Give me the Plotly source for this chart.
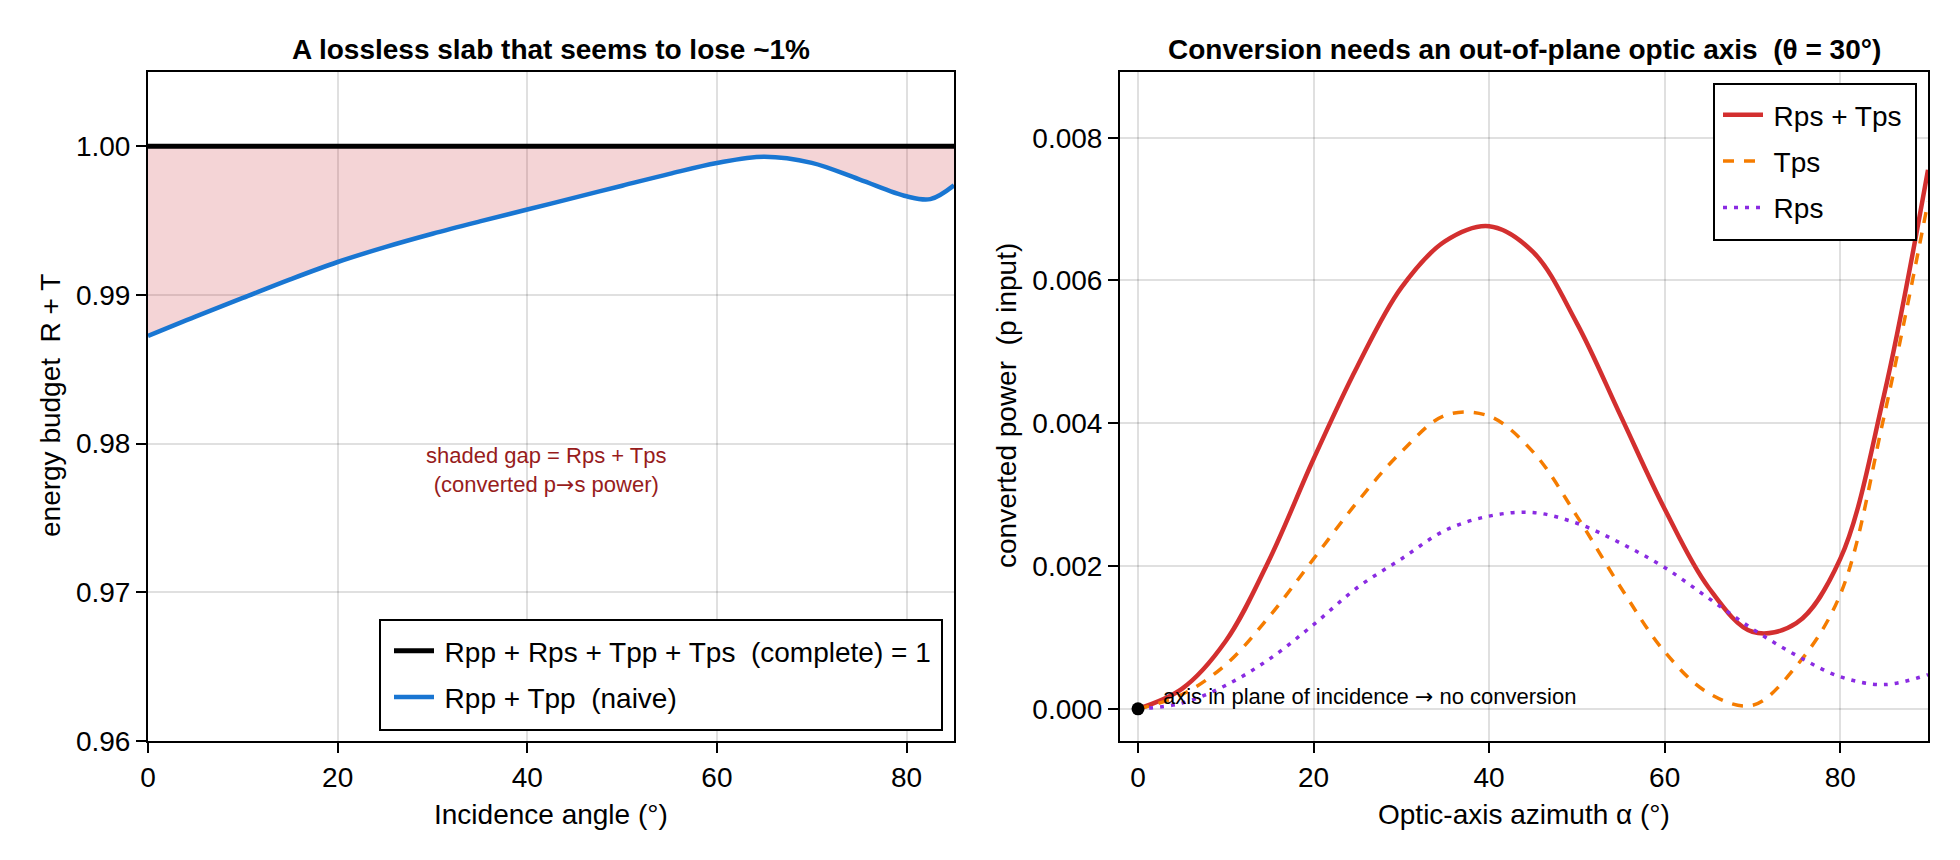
import plotly.graph_objects as go

# ---------------- data ----------------
# Left panel: energy budget vs incidence angle
theta = [0, 5, 10, 15, 20, 25, 30, 35, 40, 45, 50, 55, 60, 65, 70, 75, 80, 82.5, 85]
naive = [0.98725, 0.98855, 0.98980, 0.99105, 0.99222, 0.99322, 0.99412, 0.99495,
         0.99575, 0.99655, 0.99735, 0.99815, 0.99888, 0.99930, 0.99889, 0.99778,
         0.99664, 0.99645, 0.99738]
complete = [1.0] * len(theta)

# Right panel: converted power vs optic-axis azimuth
alpha = [0, 5, 10, 15, 20, 25, 30, 35, 40, 45, 50, 55, 60, 65, 70, 75, 80, 85, 90]
conv_total = [0.0, 0.00028, 0.00095, 0.0021, 0.0035, 0.0048, 0.0059, 0.00655, 0.00676,
              0.0064, 0.0054, 0.0041, 0.0028, 0.0017, 0.00108, 0.0012, 0.0021, 0.0044, 0.00755]
tps = [0.0, 0.0002, 0.00062, 0.0013, 0.0021, 0.0029, 0.0036, 0.00411, 0.00410,
       0.0036, 0.0027, 0.0017, 0.0008, 0.00022, 0.00005, 0.0006, 0.0016, 0.0041, 0.0071]
rps = [0.0, 0.00008, 0.00033, 0.0007, 0.00118, 0.0017, 0.0021, 0.0025, 0.0027,
       0.00275, 0.0026, 0.00232, 0.00198, 0.00155, 0.00112, 0.00075, 0.00045, 0.00034, 0.00048]

FONT = "Liberation Sans"
W, H = 1960, 860
ARROW = '<span style="font-family:DejaVu Sans">→</span>'
TSP = "\u2009"

def px(x):
    return x / W

def py(y):
    return (H - y) / H

fig = go.Figure()

# shaded gap between naive and complete
fig.add_trace(go.Scatter(x=theta, y=complete, mode="lines", line=dict(width=0),
                         showlegend=False, hoverinfo="skip", xaxis="x", yaxis="y"))
fig.add_trace(go.Scatter(x=theta, y=naive, mode="lines", line=dict(width=0, shape="spline"),
                         fill="tonexty", fillcolor="rgba(200,40,50,0.20)",
                         showlegend=False, hoverinfo="skip", xaxis="x", yaxis="y"))
fig.add_trace(go.Scatter(x=theta, y=complete, mode="lines",
                         line=dict(color="black", width=5),
                         name=TSP + "Rpp + Rps + Tpp + Tps\u00a0 (complete) = 1",
                         legend="legend", legendgroup="g1", xaxis="x", yaxis="y"))
fig.add_trace(go.Scatter(x=theta, y=naive, mode="lines",
                         line=dict(color="#1976D2", width=4.5, shape="spline"),
                         name=TSP + "Rpp + Tpp\u00a0 (naive)",
                         legend="legend", legendgroup="g2", xaxis="x", yaxis="y"))

# right panel
fig.add_trace(go.Scatter(x=alpha, y=conv_total, mode="lines",
                         line=dict(color="#D32F2F", width=4.5, shape="spline"),
                         name=TSP + "Rps + Tps", legend="legend2", legendgroup="h1",
                         xaxis="x2", yaxis="y2"))
fig.add_trace(go.Scatter(x=alpha, y=tps, mode="lines",
                         line=dict(color="#F57C00", width=3.5, shape="spline", dash="11px,10px"),
                         name=TSP + "Tps", legend="legend2", legendgroup="h2",
                         xaxis="x2", yaxis="y2"))
fig.add_trace(go.Scatter(x=alpha, y=rps, mode="lines",
                         line=dict(color="#8A2BE2", width=3.5, shape="spline", dash="4px,7px"),
                         name=TSP + "Rps", legend="legend2", legendgroup="h3",
                         xaxis="x2", yaxis="y2"))
fig.add_trace(go.Scatter(x=[alpha[0]], y=[conv_total[0]], mode="markers",
                         marker=dict(color="black", size=13),
                         showlegend=False, hoverinfo="skip", xaxis="x2", yaxis="y2"))

axis_common = dict(showline=True, mirror=True, linecolor="black", linewidth=2,
                   ticks="outside", ticklen=10, tickwidth=2, tickcolor="black",
                   showgrid=True, gridcolor="rgba(0,0,0,0.12)", gridwidth=1.5,
                   zeroline=False, tickfont=dict(family=FONT, size=28, color="black"),
                   automargin=False)

ydom = [py(741), py(72)]

legend_common = dict(bgcolor="rgba(0,0,0,0)", borderwidth=0,
                     font=dict(family=FONT, size=28, color="black"),
                     itemwidth=40, traceorder="grouped", tracegroupgap=7)

fig.update_layout(
    width=W, height=H,
    margin=dict(l=0, r=0, t=0, b=0),
    paper_bgcolor="white", plot_bgcolor="white",
    font=dict(family=FONT, color="black"),
    xaxis=dict(domain=[px(148), px(954)], range=[0, 85], tickvals=[0, 20, 40, 60, 80],
               anchor="y", **axis_common),
    yaxis=dict(domain=ydom, range=[0.96, 1.005], tickvals=[0.96, 0.97, 0.98, 0.99, 1.00],
               tickformat=".2f", anchor="x", **axis_common),
    xaxis2=dict(domain=[px(1120), px(1928)], range=[-2.05, 90], tickvals=[0, 20, 40, 60, 80],
                anchor="y2", **axis_common),
    yaxis2=dict(domain=ydom, range=[-0.00045, 0.00892],
                tickvals=[0.0, 0.002, 0.004, 0.006, 0.008],
                tickformat=".3f", anchor="x2", **axis_common),
    legend=dict(x=px(389), y=py(626), xanchor="left", yanchor="top", **legend_common),
    legend2=dict(x=px(1718), y=py(90), xanchor="left", yanchor="top", **legend_common),
    showlegend=True,
    shapes=[
        dict(type="rect", xref="paper", yref="paper", x0=px(380), x1=px(942),
             y0=py(730), y1=py(620), line=dict(color="black", width=2),
             fillcolor="white", layer="above"),
        dict(type="rect", xref="paper", yref="paper", x0=px(1714), x1=px(1916),
             y0=py(240), y1=py(84), line=dict(color="black", width=2),
             fillcolor="white", layer="above"),
    ],
)

annotations = [
    dict(text="<b>A lossless slab that seems to lose ~1%</b>", x=px(551), y=py(50),
         xref="paper", yref="paper", showarrow=False, xanchor="center", yanchor="middle",
         font=dict(family=FONT, size=28, color="black")),
    dict(text="<b>Conversion needs an out-of-plane optic axis\u00a0 (θ = 30°)</b>", x=px(1524), y=py(50),
         xref="paper", yref="paper", showarrow=False, xanchor="center", yanchor="middle",
         font=dict(family=FONT, size=28, color="black")),
    dict(text="Incidence angle (°)", x=px(551), y=py(814),
         xref="paper", yref="paper", showarrow=False, xanchor="center", yanchor="middle",
         font=dict(family=FONT, size=28, color="black")),
    dict(text="Optic-axis azimuth α (°)", x=px(1524), y=py(814),
         xref="paper", yref="paper", showarrow=False, xanchor="center", yanchor="middle",
         font=dict(family=FONT, size=28, color="black")),
    dict(text="energy budget\u00a0 R + T", x=px(50), y=py(406),
         xref="paper", yref="paper", showarrow=False, textangle=-90,
         xanchor="center", yanchor="middle",
         font=dict(family=FONT, size=28, color="black")),
    dict(text="converted power\u00a0 (p input)", x=px(1006), y=py(406),
         xref="paper", yref="paper", showarrow=False, textangle=-90,
         xanchor="center", yanchor="middle",
         font=dict(family=FONT, size=28, color="black")),
    dict(text="shaded gap = Rps + Tps<br>(converted p" + ARROW + "s power)", x=42, y=0.9782,
         xref="x", yref="y", showarrow=False, xanchor="center", yanchor="middle",
         font=dict(family=FONT, size=22, color="#971c1c")),
    dict(text="axis in plane of incidence " + ARROW + " no conversion", x=2.6, y=0.00018,
         xref="x2", yref="y2", showarrow=False, xanchor="left", yanchor="middle",
         font=dict(family=FONT, size=22, color="black")),
]
fig.update_layout(annotations=annotations)

fig.write_html("out.html")
